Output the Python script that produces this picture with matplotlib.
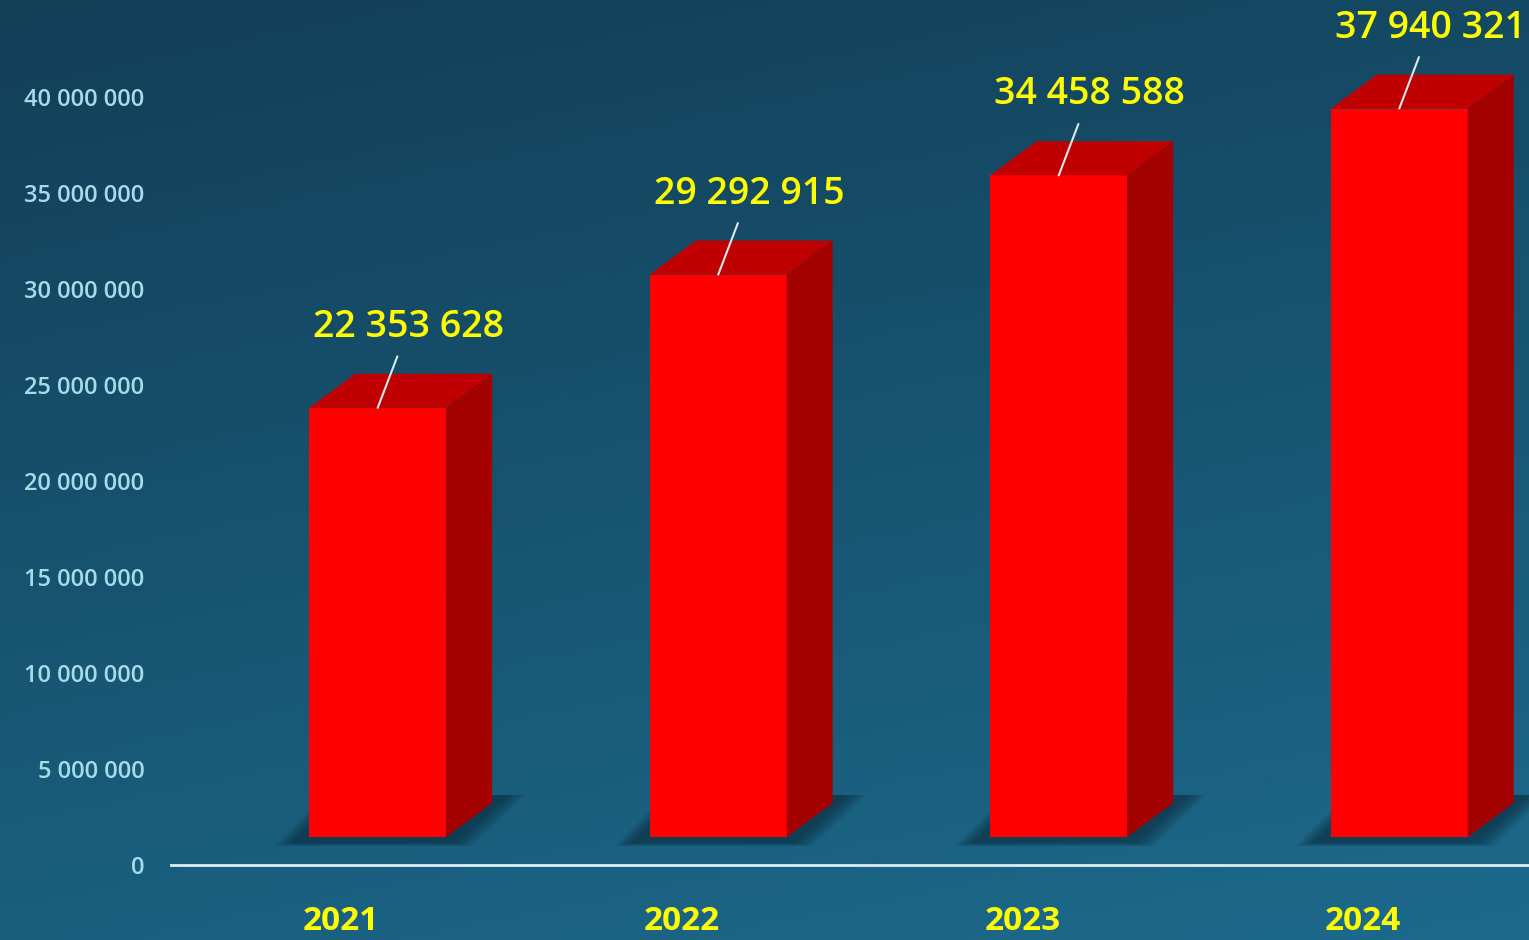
import numpy as np
import matplotlib.pyplot as plt
from matplotlib.patches import Polygon

# data
years = ['2021', '2022', '2023', '2024']
values = [22353628, 29292915, 34458588, 37940321]
yticks = [0, 5000000, 10000000, 15000000, 20000000, 25000000, 30000000, 35000000, 40000000]

def fmt(v):
    return f'{v:,}'.replace(',', ' ')

W, H = 1529, 940
fig = plt.figure(figsize=(W / 100, H / 100), dpi=100)

# background gradient
bg = fig.add_axes([0, 0, 1, 1])
yy, xx = np.mgrid[0:1:200j, 0:1:300j]
t = 0.75 * yy + 0.25 * xx
top = np.array([18, 62, 86]) / 255
bot = np.array([29, 106, 140]) / 255
img = top[None, None, :] * (1 - t[..., None]) + bot[None, None, :] * t[..., None]
bg.imshow(img, aspect='auto', extent=[0, 1, 0, 1], origin='upper')
bg.axis('off')

ax = fig.add_axes([171 / W, 0, 1 - 171 / W, 1])
ax.set_facecolor('none')
ax.set_xlim(-0.5, 3.488)
ax.set_ylim(-3.906e6, 45.05e6)

px_x = 1 / 340.5          # data x per pixel
px_y = 1e6 / 19.2         # data y per pixel

x = np.arange(len(years))
left = -0.094
width = 0.402
dx = 46 * px_x
dy = 34 * px_y
base = 28 * px_y

# floor shadows
for xi in x:
    x0 = xi + left
    for k in range(7):
        g = (7 - k) * 3
        pts = [(x0 - 14 * px_x - g * px_x, base - 5 * px_y - g * 0.2 * px_y),
               (x0 + width + 5 * px_x + g * px_x, base - 5 * px_y - g * 0.2 * px_y),
               (x0 + width + dx + 12 * px_x + g * px_x, base + dy + 8 * px_y),
               (x0 + dx - 10 * px_x - g * px_x, base + dy + 8 * px_y)]
        ax.add_patch(Polygon(pts, closed=True, facecolor='#0a2533', edgecolor='none',
                             alpha=0.1, zorder=1))

# front faces
ax.bar(x + left + width / 2, values, bottom=base, width=width, color='#ff0000', zorder=3)

# top and side faces
for xi, v in zip(x, values):
    x0 = xi + left
    x1 = x0 + width
    ytop = v + base
    ax.add_patch(Polygon([(x0, ytop), (x1, ytop), (x1 + dx, ytop + dy), (x0 + dx, ytop + dy)],
                         closed=True, facecolor='#c00000', edgecolor='none', zorder=3))
    ax.add_patch(Polygon([(x1, base), (x1 + dx, base + dy), (x1 + dx, ytop + dy), (x1, ytop)],
                         closed=True, facecolor='#a30000', edgecolor='none', zorder=3))
    ax.annotate(fmt(v), xy=(x0 + width / 2, ytop), xytext=(31, 81), textcoords='offset pixels',
                ha='center', va='center', color='#ffff00', fontsize=27,
                fontfamily='Open Sans', fontweight='semibold', zorder=5,
                arrowprops=dict(arrowstyle='-', color='#dbe9ee', lw=1.5,
                                shrinkA=6, shrinkB=0))

# axes styling
for s in ['top', 'right', 'left']:
    ax.spines[s].set_visible(False)
ax.spines['bottom'].set_position(('data', 0))
ax.spines['bottom'].set_color('#dceef4')
ax.spines['bottom'].set_linewidth(2)
ax.spines['bottom'].set_zorder(4)

ax.set_yticks(yticks)
ax.set_yticklabels([fmt(v) for v in yticks], color='#a6dbea', fontsize=17,
                   fontfamily='Open Sans', fontweight='semibold')
ax.tick_params(axis='y', length=0, pad=19)

ax.set_xticks(x)
ax.set_xticklabels(years, color='#ffff00', fontsize=24, fontfamily='Open Sans',
                   fontweight='bold')
ax.tick_params(axis='x', length=0, pad=29)

fig.savefig('out.png', dpi=100)
